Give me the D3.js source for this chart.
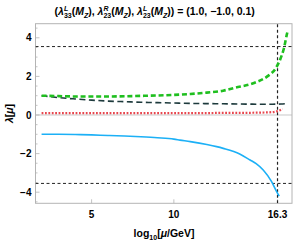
<!DOCTYPE html>
<html>
<head>
<meta charset="utf-8">
<script src="https://cdn.jsdelivr.net/npm/d3@7"></script>
<style>
  body { margin: 0; background: #fff; }
  svg { display: block; font-family: "Liberation Sans", Arial, sans-serif; }
</style>
</head>
<body>
<svg id="chart" width="294" height="245"></svg>
<script>
// log10(mu/GeV) grid and coupling values
const greenX = [1.96, 3, 4, 5, 6, 7, 8, 9, 10, 11, 12, 13, 13.65, 14.87, 15.68, 16.19, 16.49, 16.69, 16.86, 16.93];
const greenY = [1.0, 0.98, 0.96, 0.96, 0.96, 0.97, 0.99, 1.01, 1.04, 1.09, 1.16, 1.26, 1.4, 1.66, 2.0, 2.42, 2.94, 3.46, 4.15, 4.4];

const darkX = [1.96, 3, 4, 5, 6, 7, 8, 9, 10, 11, 12, 13, 14, 15, 16, 16.5, 16.92];
const darkY = [1.0, 0.9, 0.83, 0.77, 0.72, 0.69, 0.66, 0.64, 0.62, 0.6, 0.59, 0.58, 0.57, 0.56, 0.56, 0.57, 0.6];

const redX = [1.96, 4, 6, 8, 10, 12, 13, 14, 15, 15.5, 16, 16.3, 16.61];
const redY = [0.1, 0.1, 0.1, 0.1, 0.1, 0.1, 0.11, 0.11, 0.12, 0.13, 0.15, 0.2, 0.31];

const blueX = [1.96, 3, 4, 5, 6, 7, 8, 9, 10, 10.37, 11, 12, 12.6, 13, 14, 14.63, 15, 15.43, 15.94, 16.2, 16.33, 16.4];
const blueY = [-1.0, -1.0, -1.01, -1.03, -1.06, -1.09, -1.13, -1.18, -1.25, -1.3, -1.38, -1.53, -1.64, -1.73, -2.02, -2.33, -2.52, -2.85, -3.45, -3.89, -4.1, -4.2];

const perturbBound = 3.545;   // sqrt(4 pi)
const gutScale = 16.3;

const xTicks = [5, 10, 16.3];
const xTickLabels = ['5', '10', '16.3'];
const yTicks = [4, 2, 0, -2, -4];
const yTickLabels = ['4', '2', '0', '\u22122', '\u22124'];

const width = 294, height = 245;
const margin = { top: 23.7, right: 2, bottom: 41.7, left: 35.5 };

const svg = d3.select('#chart');

const x = d3.scaleLinear().domain([1.59, 17.18]).range([margin.left, width - margin.right]);
const y = d3.scaleLinear().domain([-4.575, 4.73]).range([height - margin.bottom, margin.top]);

const frameColor = '#b4b4b4';

// clip for plot area
svg.append('clipPath').attr('id', 'plotClip')
  .append('rect')
  .attr('x', x.range()[0]).attr('y', y.range()[1])
  .attr('width', x.range()[1] - x.range()[0])
  .attr('height', y.range()[0] - y.range()[1]);

// zero axis
svg.append('line')
  .attr('x1', x.range()[0]).attr('x2', x.range()[1])
  .attr('y1', y(0)).attr('y2', y(0))
  .attr('stroke', '#c8c8c8').attr('stroke-width', 1);

// ticks (inward)
const yMinor = d3.range(-4.5, 4.51, 0.5).filter(v => Math.abs(v % 2) > 1e-6);
svg.append('g').selectAll('line.ymin')
  .data(yMinor).enter().append('line')
  .attr('x1', x.range()[0]).attr('x2', x.range()[0] + 2)
  .attr('y1', d => y(d)).attr('y2', d => y(d))
  .attr('stroke', frameColor).attr('stroke-width', 0.8);
svg.append('g').selectAll('line.ymaj')
  .data(yTicks).enter().append('line')
  .attr('x1', x.range()[0]).attr('x2', x.range()[0] + 4)
  .attr('y1', d => y(d)).attr('y2', d => y(d))
  .attr('stroke', frameColor).attr('stroke-width', 0.8);
svg.append('g').selectAll('line.xmaj')
  .data(xTicks).enter().append('line')
  .attr('x1', d => x(d)).attr('x2', d => x(d))
  .attr('y1', y.range()[0]).attr('y2', y.range()[0] - 4)
  .attr('stroke', frameColor).attr('stroke-width', 0.8);

// frame
svg.append('rect')
  .attr('x', x.range()[0]).attr('y', y.range()[1])
  .attr('width', x.range()[1] - x.range()[0])
  .attr('height', y.range()[0] - y.range()[1])
  .attr('fill', 'none').attr('stroke', frameColor).attr('stroke-width', 1);

// tick labels
svg.append('g').selectAll('text')
  .data(yTicks).enter().append('text')
  .attr('x', x.range()[0] - 4)
  .attr('y', d => y(d) + 3.6)
  .attr('text-anchor', 'end')
  .attr('font-size', 10).attr('font-weight', 'bold')
  .text((d, i) => yTickLabels[i]);
svg.append('g').selectAll('text')
  .data(xTicks).enter().append('text')
  .attr('x', d => x(d))
  .attr('y', y.range()[0] + 15)
  .attr('text-anchor', 'middle')
  .attr('font-size', 10).attr('font-weight', 'bold')
  .text((d, i) => xTickLabels[i]);

// reference lines
const plot = svg.append('g').attr('clip-path', 'url(#plotClip)');
[perturbBound, -perturbBound].forEach(v => {
  plot.append('line')
    .attr('x1', x.range()[0]).attr('x2', x.range()[1])
    .attr('y1', y(v)).attr('y2', y(v))
    .attr('stroke', '#222').attr('stroke-width', 1).attr('stroke-dasharray', '3,2.5');
});
plot.append('line')
  .attr('x1', x(gutScale)).attr('x2', x(gutScale))
  .attr('y1', y.range()[0]).attr('y2', y.range()[1] - 2)
  .attr('stroke', '#222').attr('stroke-width', 1.2).attr('stroke-dasharray', '3,2.5');

// curves
const line = d3.line().x(d => x(d[0])).y(d => y(d[1])).curve(d3.curveMonotoneX);
const series = [
  { xs: blueX, ys: blueY, color: '#1cb0f6', w: 1.6, dash: null },
  { xs: redX, ys: redY, color: '#e8474f', w: 2.2, dash: '1.8,1.6' },
  { xs: darkX, ys: darkY, color: '#1d3a3c', w: 1.6, dash: '6,3.5' },
  { xs: greenX, ys: greenY, color: '#1fbf1f', w: 2.6, dash: '5,2.8' }
];
series.forEach(s => {
  plot.append('path')
    .datum(s.xs.map((v, i) => [v, s.ys[i]]))
    .attr('fill', 'none')
    .attr('stroke', s.color)
    .attr('stroke-width', s.w)
    .attr('stroke-dasharray', s.dash)
    .attr('d', line);
});

// rich text helper: runs of {t, italic, size, dy, back}
function richText(sel, runs) {
  runs.forEach(r => {
    const ts = sel.append('tspan').text(r.t);
    if (r.italic) ts.attr('font-style', 'italic');
    if (r.size) ts.attr('font-size', r.size);
    if (r.dy) ts.attr('dy', r.dy);
    if (r.dx) ts.attr('dx', r.dx);
    r.node = ts.node();
  });
  return sel;
}

// title
const title = svg.append('text')
  .attr('x', 0).attr('y', 15)
  .attr('font-size', 10.5).attr('font-weight', 'bold');
function lam(sup, sub) {
  return [
    { t: '\u03bb', italic: true },
    { t: sup, italic: true, size: 7, dy: -4.5 },
    { t: sub, size: 7, dy: 7.5, back: true },
    { t: '(', dy: -3 },
    { t: 'M', italic: true },
    { t: 'Z', italic: true, size: 7, dy: 2.5 },
    { t: ')', dy: -2.5 }
  ];
}
const titleRuns = [{ t: '(' }].concat(lam('L', '33'), [{ t: ', ' }], lam('R', '23'), [{ t: ', ' }], lam('L', '23'),
  [{ t: ') = (1.0, \u22121.0, 0.1)' }]);
titleRuns.forEach((r, i) => {
  const ts = title.append('tspan').text(r.t);
  if (r.italic) ts.attr('font-style', 'italic');
  if (r.size) ts.attr('font-size', r.size);
  if (r.dy) ts.attr('dy', r.dy);
  if (r.back) {
    const prevW = titleRuns[i - 1].node.getComputedTextLength();
    ts.attr('dx', -prevW);
  }
  r.node = ts.node();
});
const tw = title.node().getComputedTextLength();
title.attr('x', 161.5 - tw / 2);

// x label
const xl = svg.append('text')
  .attr('x', 0).attr('y', 237)
  .attr('font-size', 10.5).attr('font-weight', 'bold');
richText(xl, [
  { t: 'log' },
  { t: '10', size: 7, dy: 2.5 },
  { t: '[', dy: -2.5 },
  { t: '\u03bc', italic: true },
  { t: '/GeV]' }
]);
const xw = xl.node().getComputedTextLength();
xl.attr('x', 164 - xw / 2);

// y label
const yl = svg.append('text')
  .attr('transform', 'translate(13,113.5) rotate(-90)')
  .attr('text-anchor', 'middle')
  .attr('font-size', 10.5).attr('font-weight', 'bold');
richText(yl, [
  { t: '\u03bb', italic: true },
  { t: '[' },
  { t: '\u03bc', italic: true },
  { t: ']' }
]);
</script>
</body>
</html>
